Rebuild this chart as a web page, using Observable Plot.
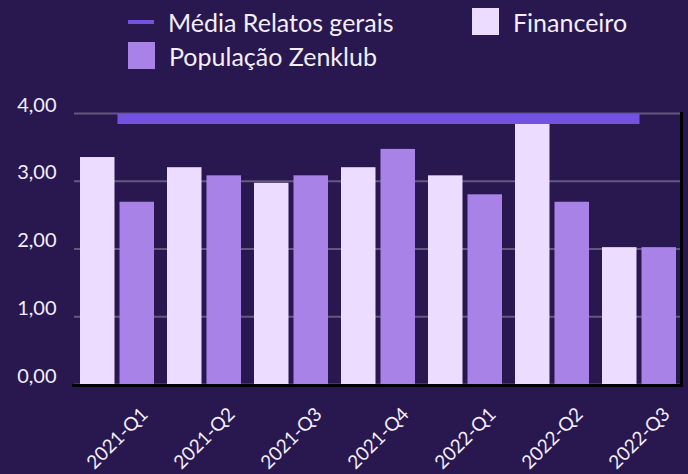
<!DOCTYPE html>
<html><head><meta charset="utf-8">
<script src="https://cdn.jsdelivr.net/npm/d3@7"></script>
<script src="https://cdn.jsdelivr.net/npm/@observablehq/plot@0.6"></script>
<style>
html,body{margin:0;padding:0;background:#291750;}
body{width:688px;height:474px;overflow:hidden;font-family:Lato, "Open Sans", sans-serif;color:#f3eefa;}
#legend{position:relative;height:90px;}
.item{position:absolute;display:flex;align-items:center;height:27px;font-size:25px;white-space:nowrap;line-height:1;}
.sw{flex:none;margin-right:14px;}
</style>
</head><body>
<div id="legend"></div>
<div id="chart"></div>
<script>
const quarters = ["2021-Q1","2021-Q2","2021-Q3","2021-Q4","2022-Q1","2022-Q2","2022-Q3"];
const financeiro = [3.35, 3.20, 2.97, 3.20, 3.08, 3.84, 2.02];
const populacao = [2.69, 3.08, 3.08, 3.47, 2.80, 2.69, 2.02];
const mediaRelatos = [3.92, 3.92, 3.92, 3.92, 3.92, 3.92, 3.92];
const yTicks = [0, 1, 2, 3, 4];
const seriesNames = ["Média Relatos gerais", "Financeiro", "População Zenklub"];
const colors = {line: "#7352e0", fin: "#ecdcff", pop: "#a982e8"};

// legend
const legend = document.getElementById("legend");
const legendItems = [
  {name: seriesNames[0], kind: "line", color: colors.line, left: 128, top: 8},
  {name: seriesNames[1], kind: "box", color: colors.fin, left: 472, top: 8},
  {name: seriesNames[2], kind: "box", color: colors.pop, left: 128, top: 42}
];
for (const it of legendItems) {
  const d = document.createElement("div");
  d.className = "item";
  d.style.left = it.left + "px";
  d.style.top = it.top + "px";
  const s = document.createElement("span");
  s.className = "sw";
  s.style.background = it.color;
  s.style.width = (it.kind === "line" ? 26 : 27) + "px";
  s.style.height = (it.kind === "line" ? 4 : 27) + "px";
  d.appendChild(s);
  const t = document.createElement("span");
  t.textContent = it.name;
  t.style.position = "relative";
  t.style.top = "1px";
  d.appendChild(t);
  legend.appendChild(d);
}

const rows = quarters.map((q, i) => ({quarter: q, fin: financeiro[i], pop: populacao[i], media: mediaRelatos[i]}));
const fmt = d => d.toFixed(2).replace(".", ",");

const frameLines = (index, scales, values, dims) => {
  const g = d3.create("svg:g");
  const x2 = dims.width - dims.marginRight + 0.5;
  const y0 = scales.y(0);
  const y4 = scales.y(4);
  g.append("line").attr("x1", dims.marginLeft - 2).attr("x2", x2 + 1.5)
    .attr("y1", y0 + 1.5).attr("y2", y0 + 1.5).attr("stroke", "#000").attr("stroke-width", 3);
  g.append("line").attr("x1", x2).attr("x2", x2)
    .attr("y1", y4 - 1).attr("y2", y0 + 3).attr("stroke", "#000").attr("stroke-width", 3);
  return g.node();
};

const chart = Plot.plot({
  width: 688, height: 384,
  marginLeft: 74, marginRight: 7, marginTop: 23, marginBottom: 90,
  style: {background: "transparent", color: "#f3eefa", fontFamily: "Lato, 'Open Sans', sans-serif", fontSize: "20px", overflow: "visible"},
  x: {type: "band", domain: quarters, paddingInner: 0.15, paddingOuter: 0.063, label: null},
  y: {domain: [0, 4], label: null},
  marks: [
    Plot.gridY(yTicks, {stroke: "#ffffff", strokeOpacity: 0.28, strokeWidth: 2}),
    Plot.barY(rows, {x: "quarter", y: "fin", fill: colors.fin, insetRight: 39.5}),
    Plot.barY(rows, {x: "quarter", y: "pop", fill: colors.pop, insetLeft: 39.5}),
    Plot.lineY(rows, {x: "quarter", y: "media", stroke: colors.line, strokeWidth: 10, strokeLinecap: "butt"}),
    Plot.axisY(yTicks, {tickSize: 0, tickPadding: 18, tickFormat: fmt, lineAnchor: "bottom", dy: -2, fontSize: 20}),
    Plot.axisX({tickSize: 0, tickPadding: 54, tickRotate: -45, textAnchor: "middle", lineAnchor: "middle", fontSize: 19}),
    frameLines
  ]
});
document.getElementById("chart").appendChild(chart);
</script>
</body></html>
